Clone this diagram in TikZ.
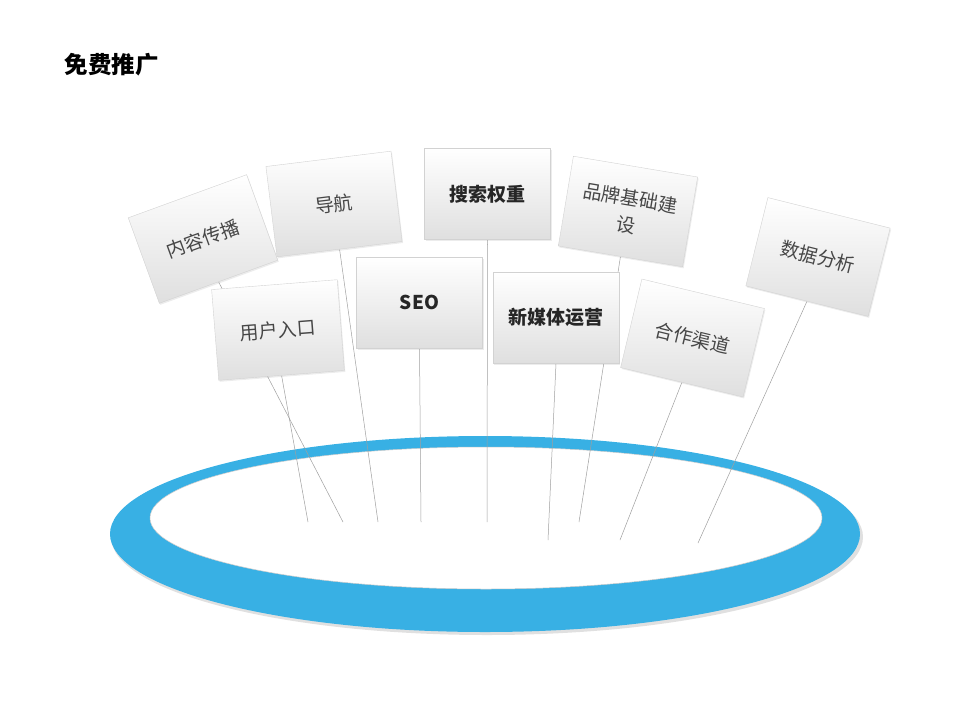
\documentclass[tikz,border=0pt]{standalone}
\usepackage{fontspec}
\newfontfamily\cjk{Noto Sans CJK SC}
\usetikzlibrary{shadows}
\definecolor{ringblue}{RGB}{56,176,228}
\definecolor{cardtext}{RGB}{70,70,70}
\pgfdeclarelayer{ring}
\pgfdeclarelayer{stick}
\pgfsetlayers{ring,stick,main}
\begin{document}
\begin{tikzpicture}[x=1pt,y=-1pt,
  card/.style={draw=gray!35, line width=0.4pt, top color=white, bottom color=gray!25,
    minimum width=126pt, minimum height=91pt, inner sep=2pt, text=cardtext,
    font=\cjk\fontsize{19}{27}\selectfont, align=center,
    drop shadow={opacity=0.15, shadow xshift=1pt, shadow yshift=-1.5pt}},
  boldcard/.style={card, font=\cjk\bfseries\fontsize{19}{27}\selectfont, text=black!85},
  stick/.style={draw=gray!75, line width=0.5pt}]
\useasboundingbox (0,0) rectangle (960,720);
\node[font=\cjk\bfseries\fontsize{23.5}{28}\selectfont, anchor=west] (title) at (61,65) {免费推广};
% ring
\begin{pgfonlayer}{ring}
\fill[gray!40, opacity=0.6] (487,537) ellipse [x radius=376, y radius=98];
\fill[ringblue] (485,534) ellipse [x radius=375, y radius=98];
\fill[white, draw=gray!40, line width=0.5pt] (486,518) ellipse [x radius=336, y radius=71];
\end{pgfonlayer}
% cards
\node[card, rotate=20] (neirong) at (203,239) {内容传播};
\node[card, rotate=7] (daohang) at (334,204) {导航};
\node[boldcard] (sousuo) at (487.5,194) {搜索权重};
\node[card, rotate=-9.5] (pinpai) at (628,211.5) {品牌基础建\\设};
\node[card, rotate=-14] (shuju) at (818,257) {数据分析};
\node[card, rotate=4.5] (yonghu) at (278,330) {用户入口};
\node[boldcard] (seo) at (419.5,302.5) {SEO};
\node[boldcard] (xinmeiti) at (556,317.5) {新媒体运营};
\node[card, rotate=-13.5] (hezuo) at (692.5,338) {合作渠道};
% sticks
\coordinate (neirong-end) at (343,522);
\coordinate (yonghu-end) at (308,522);
\coordinate (daohang-end) at (378,522);
\coordinate (seo-end) at (421,522);
\coordinate (sousuo-end) at (487,522);
\coordinate (xinmeiti-end) at (548,540);
\coordinate (pinpai-end) at (579,522);
\coordinate (hezuo-end) at (620,540);
\coordinate (shuju-end) at (698,543);
\begin{pgfonlayer}{stick}
\foreach \c in {neirong,yonghu,daohang,seo,sousuo,xinmeiti,pinpai,hezuo,shuju}
  \draw[stick] (\c.south) -- (\c-end);
\end{pgfonlayer}
\end{tikzpicture}
\end{document}
